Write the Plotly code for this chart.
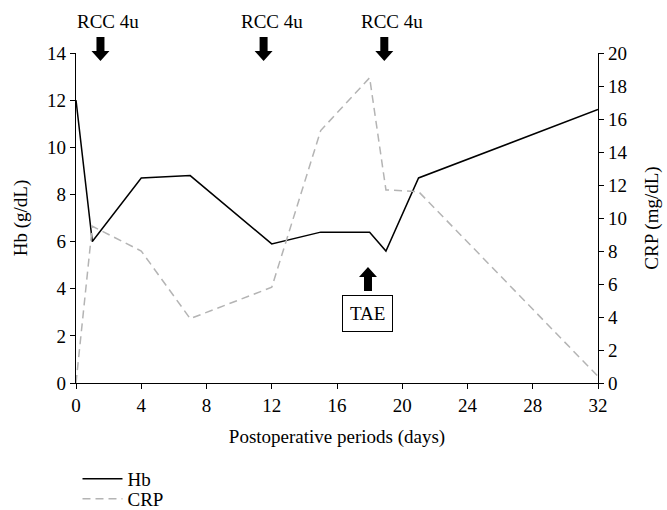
import plotly.graph_objects as go

days = [0, 1, 4, 7, 12, 15, 18, 19, 21, 32]
hb = [12.0, 6.0, 8.7, 8.8, 5.9, 6.4, 6.4, 5.6, 8.7, 11.6]
crp = [0.0, 9.5, 8.0, 3.9, 5.8, 15.3, 18.5, 11.7, 11.6, 0.4]

rcc_days = [1.5, 11.5, 18.9]
rcc_label = "RCC 4u"
tae_day = 17.9
tae_label = "TAE"

x_ticks = [0, 4, 8, 12, 16, 20, 24, 28, 32]
hb_ticks = [0, 2, 4, 6, 8, 10, 12, 14]
crp_ticks = [0, 2, 4, 6, 8, 10, 12, 14, 16, 18, 20]

FONT = "Liberation Serif"
FS = 19
W, H = 667, 510
L, R, T, B = 75.5, 69, 53, 127
plot_h = H - T - B
plot_w = W - L - R
X_MAX = 32

fig = go.Figure()
fig.add_trace(go.Scatter(x=days, y=hb, name="Hb", mode="lines", legend="legend",
                         line=dict(color="black", width=1.5)))
fig.add_trace(go.Scatter(x=days, y=crp, name="CRP", mode="lines", yaxis="y2", legend="legend2",
                         line=dict(color="#b4b4b4", width=1.5, dash="8px,5px")))

def py(pix):
    return (H - B - pix) / plot_h

def px(pix):
    return (pix - L) / plot_w

def arrow_path(day, tip_pix, direction):
    # block arrow; tip at pixel row tip_pix, pointing down (+1) or up (-1)
    cx = L + day / X_MAX * plot_w
    s = -direction
    pts = [(0, 0), (-9, 10), (-4, 10), (-4, 24), (4, 24), (4, 10), (9, 10)]
    coords = [(px(cx + dx), py(tip_pix + s * dy)) for dx, dy in pts]
    return "M " + " L ".join(f"{a:.5f},{b:.5f}" for a, b in coords) + " Z"

shapes = []
annotations = []
for d in rcc_days:
    shapes.append(dict(type="path", path=arrow_path(d, 61, 1), xref="paper", yref="paper",
                       fillcolor="black", line=dict(width=0)))
    annotations.append(dict(text=rcc_label, x=d, y=py(22), xref="x", yref="paper",
                            xshift=8, showarrow=False, yanchor="middle",
                            font=dict(family=FONT, size=FS, color="black")))
shapes.append(dict(type="path", path=arrow_path(tae_day, 267, -1), xref="paper", yref="paper",
                   fillcolor="black", line=dict(width=0)))
annotations.append(dict(text=tae_label, x=tae_day, y=py(313), xref="x", yref="paper",
                        showarrow=False, yanchor="middle", bordercolor="black",
                        borderwidth=1, borderpad=7,
                        font=dict(family=FONT, size=FS, color="black")))

axis_common = dict(showline=True, linecolor="black", linewidth=1.2, ticks="outside",
                   ticklen=5, tickcolor="black", tickwidth=1.2, showgrid=False, zeroline=False,
                   automargin=False,
                   tickfont=dict(family=FONT, size=FS, color="black"))

legend_common = dict(xanchor="left", yanchor="middle", orientation="v",
                     font=dict(family=FONT, size=FS, color="black"),
                     bgcolor="rgba(0,0,0,0)", itemwidth=40)

fig.update_layout(
    width=W, height=H,
    margin=dict(l=L, r=R, t=T, b=B, autoexpand=False),
    paper_bgcolor="white", plot_bgcolor="white",
    font=dict(family=FONT, size=FS, color="black"),
    xaxis=dict(range=[0, X_MAX], tickvals=x_ticks, title=dict(text="Postoperative periods (days)",
               font=dict(family=FONT, size=FS), standoff=14), **axis_common),
    yaxis=dict(range=[0, 14], tickvals=hb_ticks, title=dict(text="Hb (g/dL)",
               font=dict(family=FONT, size=FS), standoff=14), **axis_common),
    yaxis2=dict(range=[0, 20], tickvals=crp_ticks, overlaying="y", side="right",
                title=dict(text="CRP (mg/dL)", font=dict(family=FONT, size=FS), standoff=18),
                **axis_common),
    showlegend=True,
    legend=dict(x=px(77), y=py(479), **legend_common),
    legend2=dict(x=px(77), y=py(499), **legend_common),
    shapes=shapes, annotations=annotations,
)

fig.write_html("out.html", config={"displayModeBar": False},
               post_script="document.body.style.margin='0';")
